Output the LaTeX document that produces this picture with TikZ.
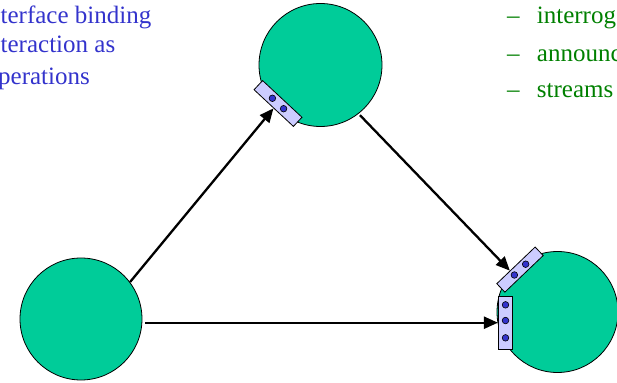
\documentclass[tikz,border=0pt]{standalone}
\usepackage{fontspec}
\setmainfont{Liberation Serif}
\newfontfamily\tnr{Liberation Serif}
\usetikzlibrary{arrows.meta,calc}
\definecolor{objfill}{RGB}{0,204,153}
\definecolor{ifill}{RGB}{204,204,255}
\definecolor{dotblue}{RGB}{51,51,204}
\definecolor{txtblue}{RGB}{51,51,204}
\definecolor{txtgreen}{RGB}{0,128,0}
\tikzset{
  obj/.style={circle,draw=black,line width=0.8pt,fill=objfill,inner sep=0pt},
  iface/.style={rectangle,draw=black,line width=0.8pt,fill=ifill,inner sep=0pt},
  pin/.style={circle,draw=black,line width=0.6pt,fill=dotblue,inner sep=0pt,minimum size=6.6pt},
  conn/.style={line width=2.3pt,-{Triangle[length=14pt,width=12pt]}},
  bluetxt/.style={text=txtblue,anchor=base west,inner sep=0pt,font=\tnr\fontsize{25}{30}\selectfont},
  greentxt/.style={text=txtgreen,anchor=base west,inner sep=0pt,font=\tnr\fontsize{25}{30}\selectfont}
}
\begin{document}
\begin{tikzpicture}[x=1pt,y=1pt]
\useasboundingbox (0,0) rectangle (617,382);
\clip (0,0) rectangle (617,382);
% objects
\node[obj,minimum size=122pt] (L) at (81,63) {};
\node[obj,minimum size=123pt] (T) at (320.5,317) {};
\node[obj,minimum size=121pt] (R) at (557.5,70) {};
% interfaces
\node[iface,minimum width=53.8pt,minimum height=12.5pt,rotate=-43] (rt) at (278,278.5) {};
\node[pin] (rt1) at ($(rt.west)!0.36!(rt.east)$) {};
\node[pin] (rt2) at ($(rt.west)!0.64!(rt.east)$) {};
\node[iface,minimum width=53pt,minimum height=11.7pt,rotate=43.7] (rr) at (520,112.4) {};
\node[pin] (rr1) at ($(rr.west)!0.355!(rr.east)$) {};
\node[pin] (rr2) at ($(rr.west)!0.645!(rr.east)$) {};
\node[iface,minimum width=14.4pt,minimum height=53.3pt] (rv) at (505.5,59.3) {};
\node[pin] (rv1) at ($(rv.north)!0.17!(rv.south)$) {};
\node[pin] (rv2) at ($(rv.north)!0.46!(rv.south)$) {};
\node[pin] (rv3) at ($(rv.north)!0.78!(rv.south)$) {};
% connectors
\draw[conn] (L.37) -- (rt.south);
\draw[conn,shorten <=2pt] (T.-52) -- ($(rr.north west)!0.35!(rr.north east)$);
\draw[conn,shorten <=3pt] (L.east |- rv.west) -- (rv.west);
% texts
\node[bluetxt] (b1) at (0.5,358) {terface binding};
\node[bluetxt] (b2) at (0.5,329) {teraction as};
\node[bluetxt] (b3) at (-2,297) {perations};
\node[greentxt] (d1) at (507,358) {–};
\node[greentxt] (g1) at (536.7,358) {interrog};
\node[greentxt] (d2) at (507,320.5) {–};
\node[greentxt] (g2) at (536.7,320.5) {announc};
\node[greentxt] (d3) at (507,284) {–};
\node[greentxt] (g3) at (536.7,284) {streams};
\end{tikzpicture}
\end{document}
